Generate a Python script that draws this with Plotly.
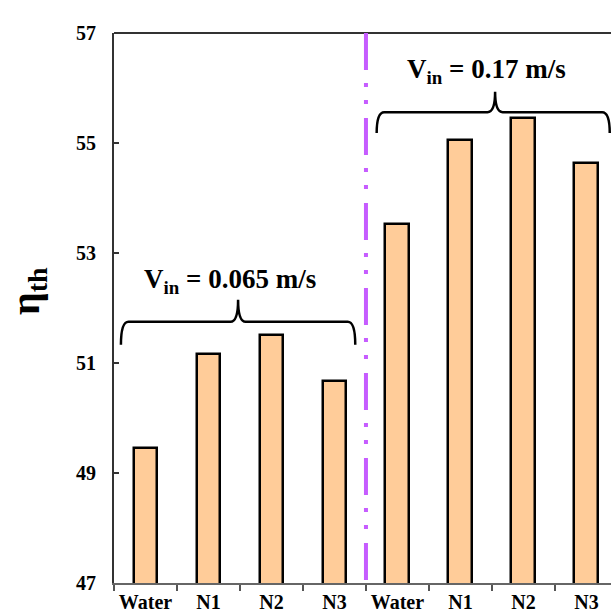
import plotly.graph_objects as go

categories = ["Water", "N1", "N2", "N3", "Water", "N1", "N2", "N3"]
eta_th = [49.45, 51.17, 51.51, 50.67, 53.53, 55.06, 55.45, 54.63]
group_labels = ["V<sub>in</sub> = 0.065 m/s", "V<sub>in</sub> = 0.17 m/s"]
y_ticks = [47, 49, 51, 53, 55, 57]

x = list(range(len(categories)))
FONT = "Liberation Serif, Times New Roman, serif"

fig = go.Figure()
fig.add_trace(go.Bar(
    x=x, y=eta_th, width=0.38,
    marker=dict(color="#FFCC99", line=dict(color="black", width=2.5)),
))

fig.update_layout(
    width=611, height=616,
    margin=dict(l=114, r=0, t=33, b=33),
    plot_bgcolor="white", paper_bgcolor="white",
    showlegend=False,
    font=dict(family=FONT, color="black"),
    bargap=0,
)
fig.update_xaxes(
    range=[-0.5, 7.39],
    tickmode="array", tickvals=x, ticktext=["<b>%s</b>" % c for c in categories],
    ticks="", showgrid=False, zeroline=False,
    showline=True, linecolor="#666", linewidth=2,
    tickfont=dict(size=20, family=FONT),
    minor=dict(tickmode="array", tickvals=[i - 0.5 for i in range(8)],
               ticks="outside", ticklen=6, tickcolor="#555", tickwidth=1.5, showgrid=False),
)
fig.update_yaxes(
    range=[47, 57], tickvals=y_ticks, ticktext=["<b>%d</b>" % v for v in y_ticks],
    ticks="inside", ticklen=5, tickcolor="#333", tickwidth=1.5,
    showgrid=False, zeroline=False,
    showline=True, linecolor="#333", linewidth=2,
    tickfont=dict(size=20, family=FONT),
    ticklabelstandoff=12,
)

# top border
fig.add_shape(type="line", xref="paper", yref="paper", x0=0, x1=1, y0=1, y1=1,
              line=dict(color="#333", width=2))

# purple separator
fig.add_shape(type="line", x0=3.5, x1=3.5, y0=57, y1=47,
              line=dict(color="#C65CFF", width=4, dash="37px,13px,4px,13px,4px,14px"))


def brace(x0, x1, xm, y_end, y_h, y_tip, r=0.12):
    p = (f"M {x0},{y_end} Q {x0},{y_h} {x0 + r},{y_h} "
         f"L {xm - r},{y_h} Q {xm},{y_h} {xm},{y_tip} "
         f"Q {xm},{y_h} {xm + r},{y_h} "
         f"L {x1 - r},{y_h} Q {x1},{y_h} {x1},{y_end}")
    return p


fig.add_shape(type="path", path=brace(-0.39, 3.33, 1.47, 51.33, 51.75, 52.15),
              line=dict(color="black", width=2.5))
fig.add_shape(type="path", path=brace(3.67, 7.37, 5.55, 55.18, 55.56, 55.93),
              line=dict(color="black", width=2.5))

fig.add_annotation(x=1.34, y=52.5, text="<b>%s</b>" % group_labels[0], showarrow=False,
                   font=dict(size=27, family=FONT), xanchor="center", yanchor="middle")
fig.add_annotation(x=5.42, y=56.31, text="<b>%s</b>" % group_labels[1], showarrow=False,
                   font=dict(size=27, family=FONT), xanchor="center", yanchor="middle")

# y-axis title
fig.add_annotation(xref="paper", yref="paper", x=(28 - 114) / 497, y=(583 - 291) / 550,
                   text="<b>η<sub>th</sub></b>", textangle=-90, showarrow=False,
                   font=dict(size=40, family=FONT), xanchor="center", yanchor="middle")

fig.write_html("out.html")
